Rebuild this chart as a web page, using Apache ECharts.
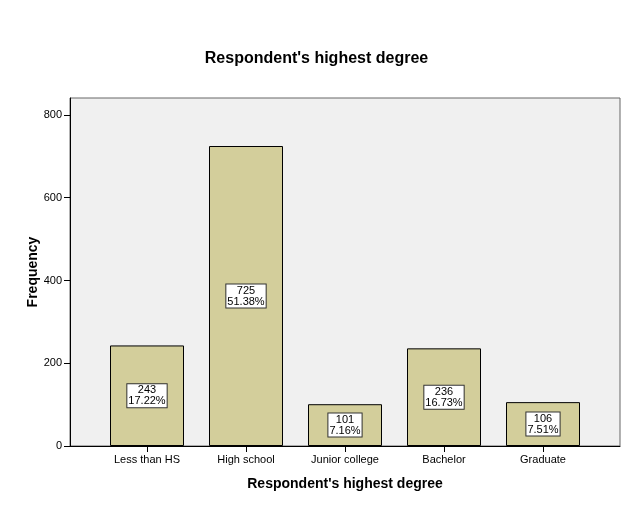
<!DOCTYPE html>
<html><head><meta charset="utf-8">
<script src="https://cdn.jsdelivr.net/npm/echarts@6/dist/echarts.min.js"></script>
<style>html,body{margin:0;padding:0;background:#fff}#c{width:633px;height:508px}</style>
</head><body><div id="c"></div>
<script>
const categories = ["Less than HS", "High school", "Junior college", "Bachelor", "Graduate"];
const counts = [243, 725, 101, 236, 106];
const percents = ["17.22%", "51.38%", "7.16%", "16.73%", "7.51%"];
const yTicks = [0, 200, 400, 600, 800];
const yMax = 841;

const chart = echarts.init(document.getElementById('c'), null, {renderer: 'canvas'});
const font = 'Liberation Sans, Arial, sans-serif';
chart.setOption({
  animation: false,
  title: {
    text: "Respondent's highest degree",
    left: 'center', top: 46,
    textStyle: {fontFamily: font, fontSize: 16, fontWeight: 'bold', color: '#000'}
  },
  grid: [
    {left: 70, right: 13, top: 98, bottom: 62, show: true, backgroundColor: '#f0f0f0', borderColor: '#666', borderWidth: 1},
    {left: 97.5, right: 40.5, top: 98, bottom: 62}
  ],
  xAxis: [
    {gridIndex: 0, type: 'value', min: 0, max: 1, show: true,
     axisLine: {show: true, onZero: false, lineStyle: {color: '#000', width: 1}},
     axisTick: {show: false}, axisLabel: {show: false}, splitLine: {show: false},
     name: "Respondent's highest degree", nameLocation: 'middle', nameGap: 31,
     nameTextStyle: {fontFamily: font, fontSize: 14, fontWeight: 'bold', color: '#000'}},
    {gridIndex: 1, type: 'category', data: categories,
     axisLine: {show: false},
     axisTick: {show: true, alignWithLabel: true, length: 6, lineStyle: {color: '#000'}},
     axisLabel: {fontFamily: font, fontSize: 11, color: '#000', margin: 8}}
  ],
  yAxis: [
    {gridIndex: 0, type: 'value', min: 0, max: yMax, interval: 200,
     axisLine: {show: true, lineStyle: {color: '#000'}},
     axisTick: {show: true, inside: false, length: 6, lineStyle: {color: '#000'}},
     axisLabel: {fontFamily: font, fontSize: 11, color: '#000', margin: 8, showMaxLabel: false,
       formatter: v => yTicks.includes(v) ? String(v) : ''},
     splitLine: {show: false},
     name: 'Frequency', nameLocation: 'middle', nameGap: 30, nameRotate: 90, nameMoveOverlap: false,
     nameTextStyle: {fontFamily: font, fontSize: 14, fontWeight: 'bold', color: '#000'}},
    {gridIndex: 1, type: 'value', min: 0, max: yMax, show: false, splitLine: {show: false}}
  ],
  series: [{
    type: 'bar', xAxisIndex: 1, yAxisIndex: 1,
    data: counts, barWidth: 74,
    itemStyle: {color: '#d3ce9b', borderColor: '#000', borderWidth: 1},
    label: {
      show: true, position: 'inside',
      formatter: p => counts[p.dataIndex] + '\n' + percents[p.dataIndex],
      fontFamily: font, fontSize: 11, color: '#000', lineHeight: 11,
      backgroundColor: '#fff', borderColor: '#333', borderWidth: 1, padding: [1, 1, 0, 1]
    }
  }]
});
</script></body></html>
